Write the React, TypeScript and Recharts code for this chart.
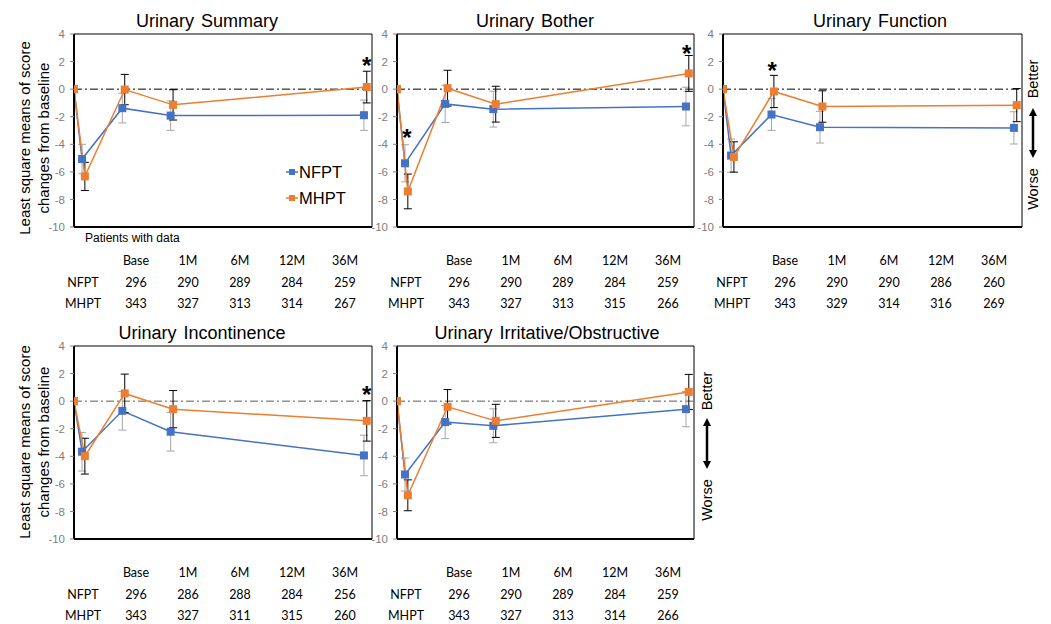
import React from 'react';
import {
  ErrorBar,
  Legend,
  Line,
  LineChart,
  ReferenceArea,
  ReferenceDot,
  ReferenceLine,
  XAxis,
  YAxis,
} from 'recharts';

// x positions (months); MHPT is nudged right so the error bars do not overlap
const nfptMonths = [0, 1, 6, 12, 36];
const mhptMonths = [0, 1.35, 6.3, 12.3, 36.35];
const yTicks = [4, 2, 0, -2, -4, -6, -8, -10];
const columns = ['Base', '1M', '6M', '12M', '36M'];
const seriesOrder = ['NFPT', 'MHPT'];

// Urinary Summary
const summaryNfpt = [0, -5.07, -1.38, -1.92, -1.89];
const summaryNfptErr = [0, 1.07, 1.07, 1.07, 1.1];
const summaryMhpt = [0, -6.33, -0.03, -1.14, 0.15];
const summaryMhptErr = [0, 1.02, 1.1, 1.1, 1.15];
const summaryNfptN = [296, 290, 289, 284, 259];
const summaryMhptN = [343, 327, 313, 314, 267];
const summaryStars = [{ x: 36.35, y: 1.7 }];

// Urinary Bother
const botherNfpt = [0, -5.38, -1.07, -1.45, -1.26];
const botherNfptErr = [0, 1.35, 1.35, 1.3, 1.4];
const botherMhpt = [0, -7.42, 0.07, -1.09, 1.14];
const botherMhptErr = [0, 1.26, 1.3, 1.3, 1.3];
const botherNfptN = [296, 290, 289, 284, 259];
const botherMhptN = [343, 327, 313, 315, 266];
const botherStars = [
  { x: 1.25, y: -3.5 },
  { x: 36.1, y: 2.6 },
];

// Urinary Function
const functionNfpt = [0, -4.82, -1.84, -2.76, -2.81];
const functionNfptErr = [0, 1.2, 1.15, 1.15, 1.17];
const functionMhpt = [0, -4.92, -0.17, -1.26, -1.16];
const functionMhptErr = [0, 1.1, 1.17, 1.14, 1.2];
const functionNfptN = [296, 290, 290, 286, 260];
const functionMhptN = [343, 329, 314, 316, 269];
const functionStars = [{ x: 6.1, y: 1.35 }];

// Urinary Incontinence
const incontNfpt = [0, -3.67, -0.7, -2.22, -3.94];
const incontNfptErr = [0, 1.4, 1.4, 1.4, 1.47];
const incontMhpt = [0, -3.99, 0.56, -0.58, -1.43];
const incontMhptErr = [0, 1.3, 1.4, 1.35, 1.47];
const incontNfptN = [296, 286, 288, 284, 256];
const incontMhptN = [343, 327, 311, 315, 260];
const incontStars = [{ x: 36.35, y: 0.45 }];

// Urinary Irritative/Obstructive
const irritNfpt = [0, -5.32, -1.52, -1.79, -0.58];
const irritNfptErr = [0, 1.2, 1.2, 1.23, 1.28];
const irritMhpt = [0, -6.83, -0.41, -1.43, 0.67];
const irritMhptErr = [0, 1.12, 1.25, 1.2, 1.27];
const irritNfptN = [296, 290, 289, 284, 259];
const irritMhptN = [343, 327, 313, 314, 266];

const BLUE = '#4472C4';
const ORANGE = '#ED7D31';
const Y_W = 40;
const TOP_M = 10;
const RIGHT_M = 12;
const BOTTOM_M = 10;
const X_H = 2;
const tableOffsets = [9, 62, 114, 166, 218, 271];

const toRows = (xs: number[], ys: number[], es: number[]) =>
  xs.map((x, i) => ({ x, y: ys[i], e: es[i] }));

const square = (color: string) => (props: any) => {
  const { cx, cy, index } = props;
  if (cx == null || cy == null) return <g key={index} />;
  return <rect key={index} x={cx - 4} y={cy - 4} width={8} height={8} fill={color} />;
};

function LegendBox({ payload }: any) {
  const items = [...(payload || [])].sort(
    (a: any, b: any) => seriesOrder.indexOf(a.value) - seriesOrder.indexOf(b.value)
  );
  return (
    <div style={{ fontFamily: 'Liberation Sans', fontSize: 16.5, color: '#000' }}>
      {items.map((entry: any) => (
        <div key={entry.value} style={{ display: 'flex', alignItems: 'center', height: 26 }}>
          <svg width={12} height={10} style={{ marginRight: 1 }}>
            <line x1={0} y1={5} x2={12} y2={5} stroke={entry.color} strokeWidth={1.5} />
            <rect x={3} y={2} width={6} height={6} fill={entry.color} />
          </svg>
          <span>{entry.value}</span>
        </div>
      ))}
    </div>
  );
}

interface PanelProps {
  title: string;
  titleX: number;
  nfpt: number[];
  nfptErr: number[];
  mhpt: number[];
  mhptErr: number[];
  nfptN: number[];
  mhptN: number[];
  stars: { x: number; y: number }[];
  left: number;
  top: number;
  width: number;
  height: number;
  legend?: boolean;
  zeroColor?: string;
}

function Panel(p: PanelProps) {
  const chartW = Y_W + p.width + RIGHT_M;
  const chartH = TOP_M + p.height + X_H + BOTTOM_M;
  const rowsY = [226, 248, 269];
  const cell = (x: number, y: number, text: string | number, key: string) => (
    <span
      key={key}
      style={{
        position: 'absolute',
        left: x,
        top: y,
        transform: 'translate(-50%, -50%)',
        fontFamily: 'Lato',
        fontSize: 12.5,
        color: '#000',
        whiteSpace: 'nowrap',
      }}
    >
      {text}
    </span>
  );

  return (
    <>
      <div
        style={{
          position: 'absolute',
          left: p.titleX,
          top: p.top - 13,
          transform: 'translate(-50%, -50%)',
          fontFamily: 'Liberation Sans',
          fontSize: 18,
          whiteSpace: 'nowrap',
          wordSpacing: 2,
        }}
      >
        {p.title}
      </div>
      <div style={{ position: 'absolute', left: p.left - Y_W, top: p.top - TOP_M }}>
        <LineChart width={chartW} height={chartH} margin={{ top: TOP_M, right: RIGHT_M, bottom: BOTTOM_M, left: 0 }}>
          <XAxis
            type="number"
            dataKey="x"
            domain={[0, 37]}
            allowDataOverflow
            tick={false}
            tickLine={false}
            height={X_H}
            axisLine={{ stroke: '#000', strokeWidth: 2 }}
          />
          <YAxis
            type="number"
            domain={[-10, 4]}
            ticks={yTicks}
            interval={0}
            allowDataOverflow
            width={Y_W}
            tick={{ fontSize: 11.5, fill: '#808080', fontFamily: 'Liberation Sans' }}
            tickLine={{ stroke: '#808080' }}
            tickSize={4}
            tickMargin={5}
            axisLine={{ stroke: '#000', strokeWidth: 2 }}
          />
          <ReferenceArea x1={0} x2={37} y1={-10} y2={4} fill="none" stroke="#000" strokeWidth={1} />
          <ReferenceLine y={0} stroke={p.zeroColor || '#000'} strokeDasharray="8 3 2 3" strokeWidth={1} />
          <Line
            data={toRows(nfptMonths, p.nfpt, p.nfptErr)}
            dataKey="y"
            name="NFPT"
            stroke={BLUE}
            strokeWidth={1.5}
            dot={square(BLUE)}
            activeDot={false}
            isAnimationActive={false}
          >
            <ErrorBar dataKey="e" direction="y" width={4} stroke="#A6A6A6" strokeWidth={1} />
          </Line>
          <Line
            data={toRows(mhptMonths, p.mhpt, p.mhptErr)}
            dataKey="y"
            name="MHPT"
            stroke={ORANGE}
            strokeWidth={1.5}
            dot={square(ORANGE)}
            activeDot={false}
            isAnimationActive={false}
          >
            <ErrorBar dataKey="e" direction="y" width={4} stroke="#000" strokeWidth={1} />
          </Line>
          {p.stars.map((s, i) => (
            <ReferenceDot
              key={i}
              x={s.x}
              y={s.y}
              r={0}
              fill="none"
              stroke="none"
              label={{ value: '*', position: 'center', fontSize: 24, fontWeight: 'bold', fill: '#000', fontFamily: 'Liberation Sans' }}
            />
          ))}
          {p.legend && (
            <Legend
              layout="vertical"
              align="center"
              verticalAlign="middle"
              wrapperStyle={{ left: 252, top: 135, width: 'auto' }}
              content={<LegendBox />}
            />
          )}
        </LineChart>
      </div>
      {columns.map((c, i) => cell(p.left + tableOffsets[i + 1], p.top + rowsY[0], c, 'h' + i))}
      {cell(p.left + tableOffsets[0], p.top + rowsY[1], 'NFPT', 'ln')}
      {cell(p.left + tableOffsets[0], p.top + rowsY[2], 'MHPT', 'lm')}
      {p.nfptN.map((n, i) => cell(p.left + tableOffsets[i + 1], p.top + rowsY[1], n, 'n' + i))}
      {p.mhptN.map((n, i) => cell(p.left + tableOffsets[i + 1], p.top + rowsY[2], n, 'm' + i))}
    </>
  );
}

function BetterWorse({ x, better, worse, a1, a2 }: { x: number; better: number; worse: number; a1: number; a2: number }) {
  const txt = { fontFamily: 'Liberation Sans', fontSize: 14.5, fill: '#000', textAnchor: 'middle' as const, dominantBaseline: 'central' as const };
  return (
    <g>
      <text x={x} y={better} transform={`rotate(-90 ${x} ${better})`} {...txt}>Better</text>
      <text x={x} y={worse} transform={`rotate(-90 ${x} ${worse})`} {...txt}>Worse</text>
      <line x1={x} y1={a1 + 6} x2={x} y2={a2 - 6} stroke="#000" strokeWidth={2.5} />
      <polygon points={`${x},${a1} ${x - 4},${a1 + 8} ${x + 4},${a1 + 8}`} fill="#000" />
      <polygon points={`${x},${a2} ${x - 4},${a2 - 8} ${x + 4},${a2 - 8}`} fill="#000" />
    </g>
  );
}

function YLabel({ cy }: { cy: number }) {
  const txt = { fontFamily: 'Liberation Sans', fontSize: 15, fill: '#000', textAnchor: 'middle' as const, dominantBaseline: 'central' as const };
  return (
    <g>
      <text x={24} y={cy} transform={`rotate(-90 24 ${cy})`} {...txt}>Least square means of score</text>
      <text x={43} y={cy} transform={`rotate(-90 43 ${cy})`} {...txt}>changes from baseline</text>
    </g>
  );
}

export default function App() {
  return (
    <div style={{ position: 'absolute', left: 0, top: 0, width: 1051, height: 624, background: '#fff', overflow: 'hidden' }}>
      <Panel
        title="Urinary Summary"
        titleX={207}
        nfpt={summaryNfpt}
        nfptErr={summaryNfptErr}
        mhpt={summaryMhpt}
        mhptErr={summaryMhptErr}
        nfptN={summaryNfptN}
        mhptN={summaryMhptN}
        stars={summaryStars}
        left={74}
        top={34}
        width={298}
        height={193}
        legend
      />
      <Panel
        title="Urinary Bother"
        titleX={535}
        nfpt={botherNfpt}
        nfptErr={botherNfptErr}
        mhpt={botherMhpt}
        mhptErr={botherMhptErr}
        nfptN={botherNfptN}
        mhptN={botherMhptN}
        stars={botherStars}
        left={397}
        top={34}
        width={297}
        height={193}
      />
      <Panel
        title="Urinary Function"
        titleX={880}
        nfpt={functionNfpt}
        nfptErr={functionNfptErr}
        mhpt={functionMhpt}
        mhptErr={functionMhptErr}
        nfptN={functionNfptN}
        mhptN={functionMhptN}
        stars={functionStars}
        left={723}
        top={34}
        width={299}
        height={193}
      />
      <Panel
        title="Urinary Incontinence"
        titleX={202}
        nfpt={incontNfpt}
        nfptErr={incontNfptErr}
        mhpt={incontMhpt}
        mhptErr={incontMhptErr}
        nfptN={incontNfptN}
        mhptN={incontMhptN}
        stars={incontStars}
        left={74}
        top={346}
        width={298}
        height={193}
        zeroColor="#595959"
      />
      <Panel
        title="Urinary Irritative/Obstructive"
        titleX={547}
        nfpt={irritNfpt}
        nfptErr={irritNfptErr}
        mhpt={irritMhpt}
        mhptErr={irritMhptErr}
        nfptN={irritNfptN}
        mhptN={irritMhptN}
        stars={[]}
        left={397}
        top={346}
        width={297}
        height={193}
        zeroColor="#595959"
      />
      <div
        style={{
          position: 'absolute',
          left: 85,
          top: 238,
          transform: 'translateY(-50%)',
          fontFamily: 'Liberation Sans',
          fontSize: 12,
          whiteSpace: 'nowrap',
        }}
      >
        Patients with data
      </div>
      <svg width={1051} height={624} style={{ position: 'absolute', left: 0, top: 0, pointerEvents: 'none' }}>
        <YLabel cy={138} />
        <YLabel cy={442} />
        <BetterWorse x={1033} better={79} worse={189} a1={108} a2={158} />
        <BetterWorse x={707} better={391} worse={500} a1={418} a2={469} />
      </svg>
    </div>
  );
}
